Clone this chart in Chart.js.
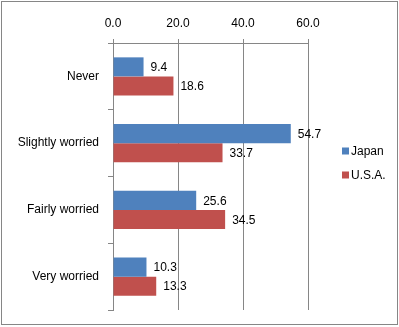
<!DOCTYPE html>
<html>
<head>
<meta charset="utf-8">
<script src="https://cdn.jsdelivr.net/npm/chart.js@4/dist/chart.umd.min.js"></script>
<style>
  html, body { margin: 0; padding: 0; background: #fff; }
  #wrap { width: 399px; height: 327px; position: relative; }
</style>
</head>
<body>
<div id="wrap"><canvas id="chart"></canvas></div>
<script>
const categories = ['Never', 'Slightly worried', 'Fairly worried', 'Very worried'];
const japan = [9.4, 54.7, 25.6, 10.3];
const usa = [18.6, 33.7, 34.5, 13.3];
const seriesNames = ['Japan', 'U.S.A.'];
const xMin = 0;
const xMax = 60;
const xStep = 20;

const FONT = 'Liberation Sans, Arial, sans-serif';
const GRID = '#868686';

// draws value labels, legend and the outer frame
const extras = {
    id: 'extras',
    afterDatasetsDraw(chart) {
        const ctx = chart.ctx;
        ctx.save();
        ctx.font = '12px ' + FONT;
        ctx.fillStyle = '#000';
        ctx.textAlign = 'left';
        ctx.textBaseline = 'middle';
        chart.data.datasets.forEach((ds, i) => {
            chart.getDatasetMeta(i).data.forEach((bar, j) => {
                ctx.fillText(ds.data[j].toFixed(1), bar.x + 7, bar.y + 1);
            });
        });

        // legend
        chart.data.datasets.forEach((ds, i) => {
            const y = 151 + i * 24;
            ctx.fillStyle = ds.backgroundColor;
            ctx.fillRect(342, y - 3.5, 7, 7);
            ctx.fillStyle = '#000';
            ctx.fillText(ds.label, 351, y + 1);
        });

        ctx.strokeStyle = GRID;
        ctx.lineWidth = 1;
        ctx.strokeRect(1.5, 1.5, 396, 323);
        ctx.restore();
    },
};

new Chart(document.getElementById('chart'), {
    type: 'bar',
    data: {
        labels: categories,
        datasets: [
            { label: seriesNames[0], data: japan, backgroundColor: '#4F81BD' },
            { label: seriesNames[1], data: usa, backgroundColor: '#C0504D' },
        ],
    },
    options: {
        indexAxis: 'y',
        responsive: true,
        maintainAspectRatio: false,
        animation: false,
        categoryPercentage: 0.57,
        barPercentage: 1.0,
        layout: { padding: { left: 0, top: 0, right: 91, bottom: 17 } },
        plugins: {
            legend: { display: false },
            tooltip: { enabled: false },
        },
        scales: {
            x: {
                position: 'top',
                min: xMin,
                max: xMax,
                afterFit(scale) { scale.height = 43; },
                ticks: {
                    stepSize: xStep,
                    color: '#000',
                    font: { family: FONT, size: 12 },
                    padding: 8,
                    callback: (v) => Number(v).toFixed(1),
                },
                grid: { color: GRID, tickLength: 4 },
                border: { display: true, color: GRID },
            },
            y: {
                afterFit(scale) { scale.width = 113; },
                ticks: {
                    color: '#000',
                    font: { family: FONT, size: 12 },
                    padding: 9,
                },
                grid: {
                    offset: true,
                    drawOnChartArea: false,
                    color: GRID,
                    tickLength: 5,
                },
                border: { display: true, color: GRID },
            },
        },
    },
    plugins: [extras],
});
</script>
</body>
</html>
